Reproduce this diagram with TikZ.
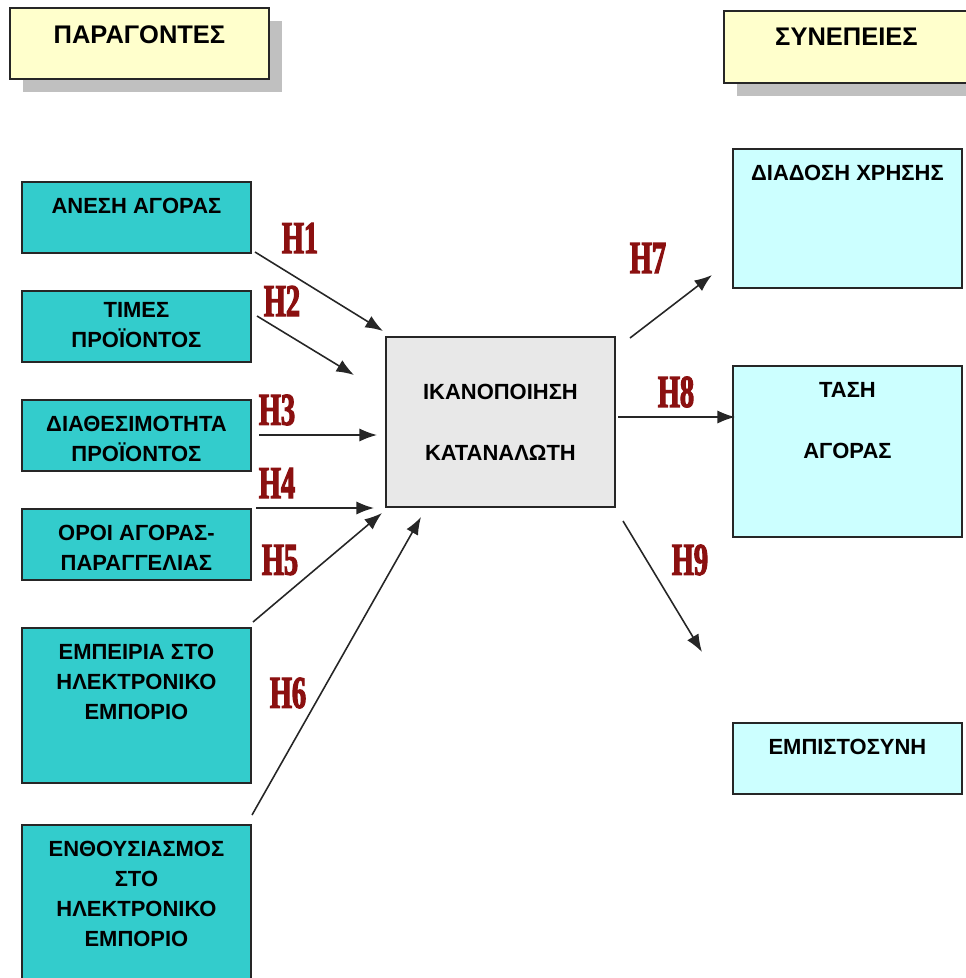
\documentclass[tikz,border=0pt]{standalone}
\usepackage{fontspec}
\setmainfont{Liberation Sans}
\newfontfamily\hypfont[FakeStretch=0.62,FakeBold=2.5]{Liberation Serif}
\usetikzlibrary{arrows.meta,shadows}

\definecolor{factorfill}{RGB}{51,204,204}
\definecolor{outcomefill}{RGB}{204,255,255}
\definecolor{centerfill}{RGB}{232,232,232}
\definecolor{headfill}{RGB}{255,255,204}
\definecolor{shadowgray}{RGB}{192,192,192}
\definecolor{hypred}{RGB}{139,16,16}

\begin{document}
\begin{tikzpicture}[x=0.02cm, y=-0.02cm, >={Latex[length=10pt,width=7.5pt]}]
    \tikzstyle{box}=[draw=black!85, line width=1.1pt, minimum width=4.58cm, inner sep=0pt, anchor=north west]
    \tikzstyle{factor}=[box, fill=factorfill]
    \tikzstyle{outcome}=[box, fill=outcomefill]
    \tikzstyle{heading}=[box, fill=headfill, drop shadow={shadow xshift=0.26cm, shadow yshift=-0.26cm, fill=shadowgray, opacity=1}]
    \tikzstyle{boxtext}=[anchor=north, inner sep=0pt, yshift=-0.34cm, align=center, font=\bfseries\fontsize{12.5}{17}\selectfont]
    \tikzstyle{headtext}=[boxtext, yshift=-0.02cm, font=\bfseries\fontsize{14.5}{17}\selectfont]
    \tikzstyle{hyp}=[->, line width=0.9pt, draw=black!85]
    \tikzstyle{hlabel}=[text=hypred, inner sep=0pt, font=\hypfont\bfseries\fontsize{26}{26}\selectfont]

    \useasboundingbox (0,0) rectangle (966,978);

    % headings
    \node[heading, minimum width=5.18cm, minimum height=1.42cm,
        label={[headtext]north:ΠΑΡΑΓΟΝΤΕΣ}] (factors) at (9,7) {};
    \node[heading, minimum width=4.90cm, minimum height=1.44cm,
        label={[headtext]north:ΣΥΝΕΠΕΙΕΣ}] (effects) at (723,10) {};

    % factor boxes (left)
    \node[factor, minimum height=1.42cm, label={[boxtext]north:ΑΝΕΣΗ ΑΓΟΡΑΣ}] (ease) at (21,181) {};
    \node[factor, minimum height=1.42cm, label={[boxtext, yshift=0.1cm]north:ΤΙΜΕΣ\\ΠΡΟΪΟΝΤΟΣ}] (prices) at (21,290) {};
    \node[factor, minimum height=1.42cm, label={[boxtext]north:ΔΙΑΘΕΣΙΜΟΤΗΤΑ\\ΠΡΟΪΟΝΤΟΣ}] (avail) at (21,399) {};
    \node[factor, minimum height=1.42cm, label={[boxtext]north:ΟΡΟΙ ΑΓΟΡΑΣ-\\ΠΑΡΑΓΓΕΛΙΑΣ}] (terms) at (21,508) {};
    \node[factor, minimum height=3.10cm, label={[boxtext]north:ΕΜΠΕΙΡΙΑ ΣΤΟ\\ΗΛΕΚΤΡΟΝΙΚΟ\\ΕΜΠΟΡΙΟ}] (exper) at (21,627) {};
    \node[factor, minimum height=3.52cm, label={[boxtext]north:ΕΝΘΟΥΣΙΑΣΜΟΣ\\ΣΤΟ\\ΗΛΕΚΤΡΟΝΙΚΟ\\ΕΜΠΟΡΙΟ}] (enthus) at (21,824) {};

    % satisfaction (centre)
    \node[box, fill=centerfill, minimum height=3.40cm,
        label={[boxtext, yshift=-0.62cm]north:ΙΚΑΝΟΠΟΙΗΣΗ\\[17.5pt]ΚΑΤΑΝΑΛΩΤΗ}] (satisf) at (385,336) {};

    % outcome boxes (right)
    \node[outcome, minimum height=2.78cm, label={[boxtext]north:ΔΙΑΔΟΣΗ ΧΡΗΣΗΣ}] (spread) at (732,148) {};
    \node[outcome, minimum height=3.42cm, label={[boxtext]north:ΤΑΣΗ\\[17.5pt]ΑΓΟΡΑΣ}] (intent) at (732,365) {};
    \node[outcome, minimum height=1.42cm, label={[boxtext]north:ΕΜΠΙΣΤΟΣΥΝΗ}] (trust) at (732,722) {};

    % hypotheses H1..H9
    \foreach \n/\sx/\sy/\ex/\ey/\lx/\ly in {
        1/255/252/383/331/300/238,
        2/257/316/354/375/282/301,
        3/259/435/377/435/277/410,
        4/256/508/374/508/277/483,
        5/253/622/382/513/280/560,
        6/252/815/421/517/288/693,
        7/630/338/712/275/648/258,
        8/618/417/735/417/676/392,
        9/623/521/702/652/690/560}
    {
        \coordinate (S-\n) at (\sx,\sy);
        \coordinate (E-\n) at (\ex,\ey);
        \draw[hyp] (S-\n) -- (E-\n);
        \node[hlabel] (H-\n) at (\lx,\ly) {H\n};
    }
\end{tikzpicture}
\end{document}
